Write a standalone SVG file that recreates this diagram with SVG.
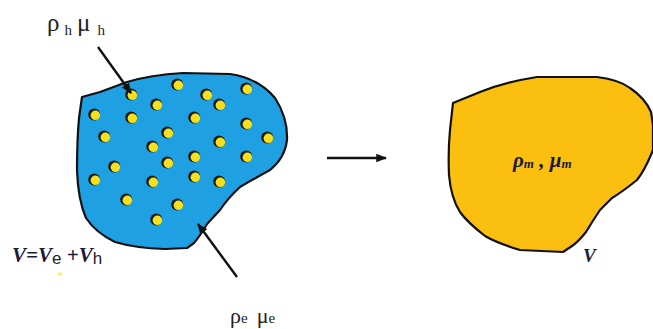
<svg xmlns="http://www.w3.org/2000/svg" width="653" height="329" viewBox="0 0 653 329">
<style>
.outline{stroke:#111;stroke-width:2.2;stroke-linejoin:round}
.lbl{font-family:"Liberation Serif","DejaVu Serif",serif;fill:#222}
.math{font-family:"Liberation Serif","DejaVu Serif",serif;font-style:italic;font-weight:bold;fill:#1a1a3a}
.sub{font-family:"Liberation Sans","DejaVu Sans",sans-serif;fill:#222}
.ptr{stroke:#111;stroke-width:2.4;fill:none}
</style>
<defs>
<marker id="ah" viewBox="0 0 10 10" refX="9" refY="5" markerWidth="4.5" markerHeight="4.5" orient="auto" markerUnits="strokeWidth">
<path d="M0,1 L10,5 L0,9 Z" fill="#111"/>
</marker>
<g id="dot">
<circle cx="-0.8" cy="-0.4" r="6" fill="#1a1a1a"/>
<circle cx="0.4" cy="0.3" r="4.8" fill="#f4e01c"/>
</g>
</defs>
<g id="mixture">
<path class="outline" fill="#1fa0e3" d="M82,97 L100,92 L127,82 Q150,75 183,73 L230,74 Q258,78 275,98 Q288,118 287,140 Q285,158 270,170 Q250,181 240,187 Q228,198 220,210 L207,224 Q200,236 194,243 L187,248 L165,249 Q135,248 115,242 Q96,233 86,218 Q78,200 77,170 Q77,140 79,118 Z"/>
<use href="#dot" x="132" y="95"/>
<use href="#dot" x="178" y="85"/>
<use href="#dot" x="207" y="95"/>
<use href="#dot" x="220" y="105"/>
<use href="#dot" x="247" y="89"/>
<use href="#dot" x="157" y="105"/>
<use href="#dot" x="95" y="115"/>
<use href="#dot" x="132" y="118"/>
<use href="#dot" x="195" y="118"/>
<use href="#dot" x="247" y="124"/>
<use href="#dot" x="105" y="137"/>
<use href="#dot" x="168" y="133"/>
<use href="#dot" x="268" y="138"/>
<use href="#dot" x="220" y="142"/>
<use href="#dot" x="153" y="147"/>
<use href="#dot" x="195" y="157"/>
<use href="#dot" x="247" y="157"/>
<use href="#dot" x="168" y="163"/>
<use href="#dot" x="115" y="167"/>
<use href="#dot" x="95" y="180"/>
<use href="#dot" x="153" y="182"/>
<use href="#dot" x="195" y="177"/>
<use href="#dot" x="220" y="182"/>
<use href="#dot" x="127" y="200"/>
<use href="#dot" x="178" y="205"/>
<use href="#dot" x="157" y="220"/>
</g>
<g id="mixed">
<path class="outline" fill="#fbbf10" d="M453,103 L480,92 Q505,82 537,77 L597,77 Q620,80 630,88 Q645,98 651,112 L653,125 L653,150 Q645,170 637,180 Q622,192 612,198 L600,210 Q592,222 586,232 Q578,242 572,246 L563,252 L520,250 Q497,243 485,236 Q467,222 460,212 Q451,198 449,175 Q448,150 450,130 Z"/>
<text class="math" x="513" y="167" font-size="21">ρ<tspan font-size="13" dy="1">m</tspan><tspan dy="-1"> , μ</tspan><tspan font-size="13" dy="1">m</tspan></text>
</g>
<g id="connectors">
<line class="ptr" x1="98" y1="47" x2="131" y2="93" marker-end="url(#ah)"/>
<line class="ptr" x1="237" y1="277" x2="198" y2="224" marker-end="url(#ah)"/>
<line class="ptr" x1="327" y1="158" x2="386" y2="158" marker-end="url(#ah)"/>
</g>
<g id="labels">
<text class="lbl" x="47" y="31" font-size="25">ρ<tspan font-size="15" dx="5" dy="4">h</tspan><tspan dx="5" dy="-4">μ</tspan><tspan font-size="15" dx="7" dy="4">h</tspan></text>
<text class="lbl" x="230" y="323" font-size="22">ρ<tspan font-size="15">e</tspan><tspan dx="9">μ</tspan><tspan font-size="15">e</tspan></text>
<text class="math" x="12" y="262" font-size="21">V=V<tspan class="sub" font-style="normal" font-weight="normal" font-size="17" dy="2">e</tspan><tspan dy="-2"> +V</tspan><tspan class="sub" font-style="normal" font-weight="normal" font-size="17" dy="2">h</tspan></text>
<ellipse cx="60" cy="274" rx="2.5" ry="1.8" fill="#f7ef7a"/>
<text class="math" x="583" y="262" font-size="19">V</text>
</g>
</svg>
